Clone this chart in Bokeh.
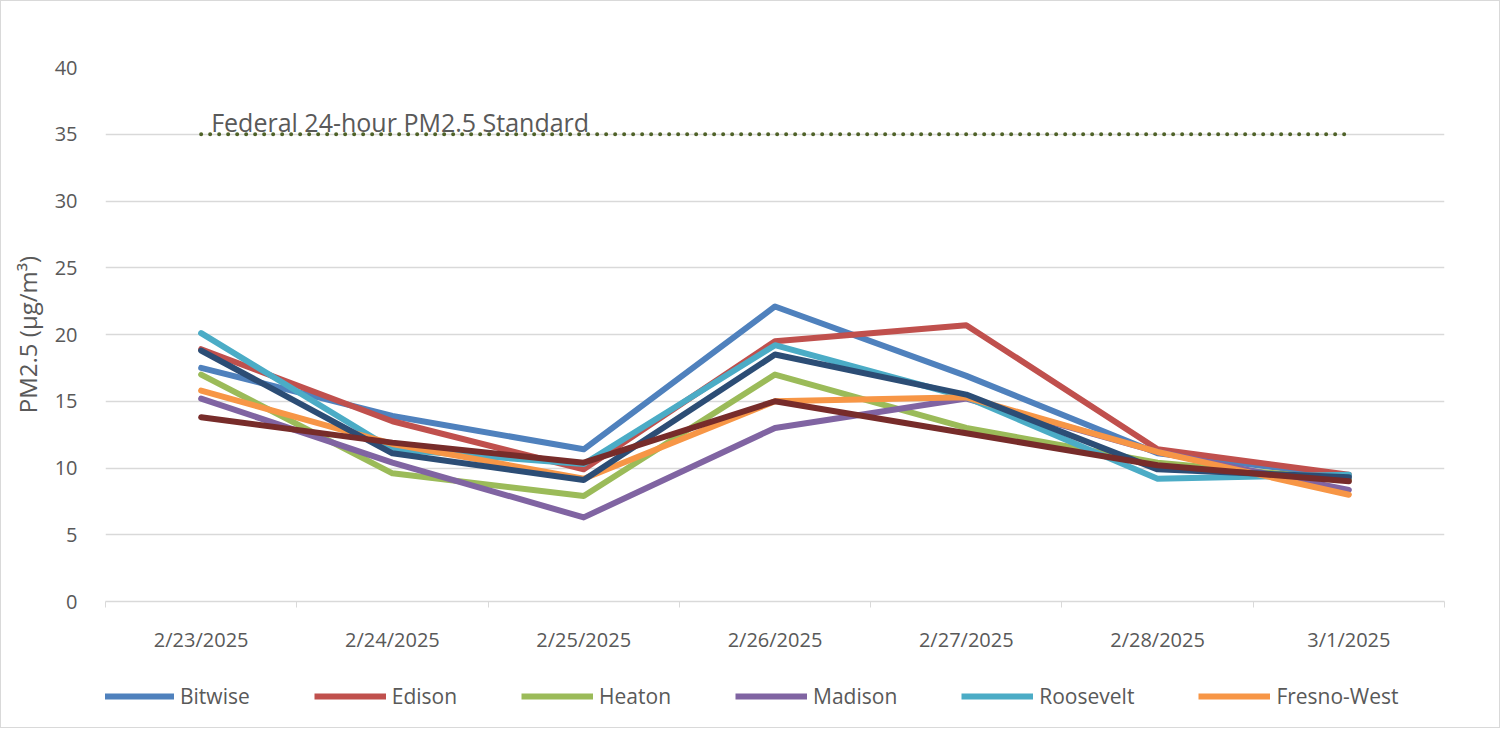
from bokeh.plotting import figure
from bokeh.models import FixedTicker, Legend, LegendItem
from bokeh.layouts import column
from bokeh.core.properties import value
from bokeh.embed import file_html
from bokeh.resources import INLINE

dates = ["2/23/2025", "2/24/2025", "2/25/2025", "2/26/2025", "2/27/2025", "2/28/2025", "3/1/2025"]
bitwise = [17.5, 13.9, 11.4, 22.1, 16.9, 11.1, 9.4]
edison = [18.9, 13.5, 9.9, 19.5, 20.7, 11.4, 9.5]
heaton = [17.0, 9.6, 7.9, 17.0, 13.0, 10.4, 9.1]
madison = [15.2, 10.4, 6.3, 13.0, 15.2, 11.2, 8.35]
roosevelt = [20.1, 11.4, 10.3, 19.2, 15.3, 9.2, 9.5]
fresno_west = [15.8, 11.8, 9.2, 15.0, 15.3, 11.2, 8.0]
series7 = [18.8, 11.1, 9.1, 18.5, 15.5, 9.9, 9.3]
series8 = [13.8, 11.9, 10.4, 15.0, 12.6, 10.2, 9.0]
standard_value = 35
standard_label = "Federal 24-hour PM2.5 Standard"
y_ticks = [0, 5, 10, 15, 20, 25, 30, 35, 40]

FONT = "Open Sans"
GREY = "#595959"

xpos = [i + 0.5 for i in range(len(dates))]

p = figure(width=1498, height=654, output_backend="svg", toolbar_location=None,
           x_range=(0, len(dates)), y_range=(0, 40),
           min_border_left=104, min_border_right=55, min_border_top=66, min_border_bottom=54)
p.outline_line_color = None

# Axes
p.xaxis.ticker = FixedTicker(ticks=xpos, minor_ticks=list(range(len(dates) + 1)))
p.xaxis.major_label_overrides = {x: d for x, d in zip(xpos, dates)}
p.xaxis.major_tick_out = 0
p.xaxis.major_tick_in = 0
p.xaxis.minor_tick_out = 6
p.xaxis.minor_tick_in = 0
p.xaxis.minor_tick_line_color = "#D9D9D9"
p.xaxis.axis_line_color = "#D9D9D9"
p.xaxis.axis_line_width = 1.3
p.xaxis.major_label_standoff = 18
p.xaxis.major_label_text_font = FONT
p.xaxis.major_label_text_font_size = "20px"
p.xaxis.major_label_text_color = GREY
p.xgrid.grid_line_color = None

p.yaxis.ticker = FixedTicker(ticks=y_ticks)
p.yaxis.axis_line_color = None
p.yaxis.major_tick_line_color = None
p.yaxis.minor_tick_line_color = None
p.yaxis.major_label_standoff = 22
p.yaxis.major_label_text_font = FONT
p.yaxis.major_label_text_font_size = "20px"
p.yaxis.major_label_text_color = GREY
p.yaxis.axis_label = "PM2.5 (µg/m³)"
p.yaxis.axis_label_text_font = FONT
p.yaxis.axis_label_text_font_size = "24px"
p.yaxis.axis_label_text_font_style = "normal"
p.yaxis.axis_label_text_color = GREY
p.yaxis.axis_label_standoff = 8
p.ygrid.grid_line_color = "#D9D9D9"
p.ygrid.grid_line_width = 1.3

# Standard line
p.line(xpos, [standard_value] * len(xpos), line_color="#4F6228", line_width=4,
       line_dash="0 9", line_cap="round")
p.text(x=[xpos[0]], y=[standard_value], text=[standard_label], x_offset=10, y_offset=5,
       text_font=value(FONT), text_font_size="25px", text_color=GREY,
       text_baseline="bottom", text_align="left")

series = [
    ("Bitwise", bitwise, "#4F81BD"),
    ("Edison", edison, "#C0504D"),
    ("Heaton", heaton, "#9BBB59"),
    ("Madison", madison, "#8064A2"),
    ("Roosevelt", roosevelt, "#4BACC6"),
    ("Fresno-West", fresno_west, "#F79646"),
    (None, series7, "#2C4D75"),
    (None, series8, "#772C2A"),
]
for name, vals, color in series:
    p.line(xpos, vals, line_color=color, line_width=6, line_join="round", line_cap="round")

# Legend strip below the chart (legend-only renderers hold no visible points)
lg = figure(width=1498, height=72, output_backend="svg", toolbar_location=None,
            x_range=(0, 1), y_range=(0, 1), min_border=0)
lg.axis.visible = False
lg.grid.visible = False
lg.outline_line_color = None
nan = float("nan")
items = []
for name, vals, color in series:
    if name:
        r = lg.line(x=[nan], y=[nan], line_color=color, line_width=6)
        items.append(LegendItem(label=name, renderers=[r]))
legend = Legend(items=items, orientation="horizontal", location=(-3, 17),
                glyph_width=72, glyph_height=20, label_standoff=6, spacing=64,
                label_text_font=FONT, label_text_font_size="21px", label_text_color=GREY,
                background_fill_alpha=0, border_line_color=None, padding=5, margin=0)
lg.add_layout(legend, "center")

layout = column(p, lg, spacing=0)
layout.styles = {"border": "1px solid #D9D9D9"}

open("out.html", "w").write(file_html(layout, INLINE))
